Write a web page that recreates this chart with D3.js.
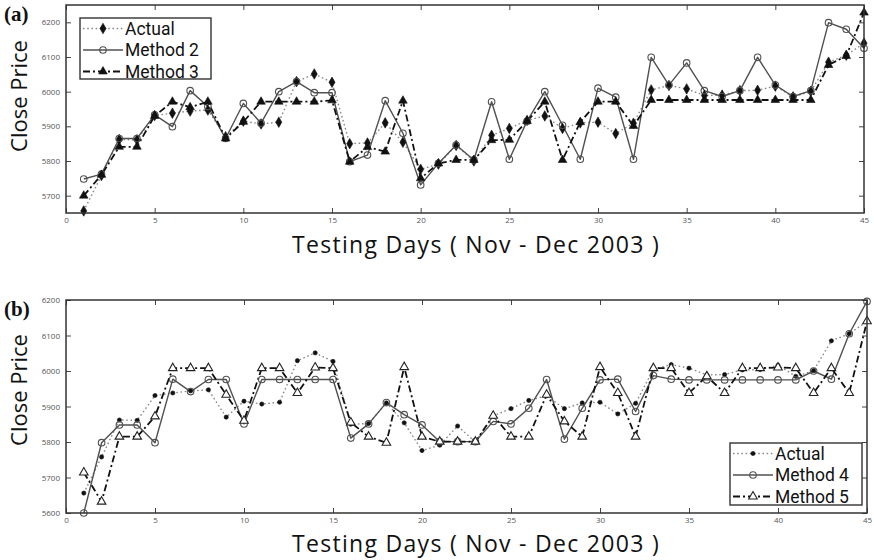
<!DOCTYPE html>
<html>
<head>
<meta charset="utf-8">
<script src="https://cdn.jsdelivr.net/npm/d3@7"></script>
<style>
  html, body { margin: 0; padding: 0; background: #fff; }
  svg { display: block; }
</style>
</head>
<body>
<svg id="chart" width="874" height="560"></svg>
<script>
// Testing days 1..45
const days = d3.range(1, 46);

// Actual close price (shared by both panels)
const actualClose = [
  5656, 5758, 5862, 5861, 5931, 5938, 5944, 5947, 5870, 5915,
  5907, 5912, 6029, 6051, 6027, 5850, 5852, 5910, 5854, 5776,
  5791, 5845, 5800, 5874, 5894, 5917, 5930, 5894, 5910, 5912,
  5879, 5909, 6005, 6018, 6008, 5989, 5990, 6003, 6004, 6016,
  5985, 6001, 6085, 6105, 6140
];

// Panel (a) forecasts
const method2 = [
  5748, 5762, 5865, 5865, 5933, 5899, 6003, 5957, 5865, 5966,
  5909, 6000, 6029, 5997, 5997, 5798, 5817, 5974, 5880, 5731,
  5793, 5846, 5803, 5971, 5805, 5915, 6000, 5903, 5805, 6010,
  5984, 5805, 6099, 6019, 6083, 6003, 5986, 6003, 6099, 6019,
  5986, 6003, 6199, 6180, 6125
];
const method3 = [
  5700, 5760, 5841, 5841, 5930, 5971, 5955, 5971, 5865, 5913,
  5971, 5971, 5971, 5971, 5975, 5798, 5840, 5827, 5974, 5750,
  5793, 5803, 5803, 5860, 5861, 5915, 5971, 5803, 5912, 5971,
  5971, 5901, 5976, 5976, 5976, 5976, 5976, 5976, 5976, 5976,
  5976, 5976, 6077, 6103, 6228
];

// Panel (b) forecasts
const method4 = [
  5600, 5798, 5848, 5848, 5798, 5977, 5942, 5976, 5976, 5851,
  5976, 5976, 5976, 5976, 5976, 5811, 5851, 5911, 5877, 5848,
  5801, 5801, 5801, 5858, 5851, 5895, 5976, 5808, 5895, 5975,
  5977, 5886, 5987, 5977, 5975, 5975, 5975, 5975, 5975, 5975,
  5975, 6000, 5977, 6105, 6196
];
const method5 = [
  5714, 5632, 5815, 5815, 5872, 6008, 6008, 6008, 5933, 5860,
  6008, 6008, 5938, 6010, 6008, 5855, 5815, 5798, 6011, 5815,
  5801, 5801, 5801, 5874, 5815, 5815, 5933, 5858, 5815, 6011,
  5938, 5815, 6008, 6008, 5938, 5985, 5938, 6008, 6008, 6010,
  6008, 5938, 6008, 5938, 6140
];

// Axis ticks
const xTicks = d3.range(0, 46, 5);
const yTicksA = [5700, 5800, 5900, 6000, 6100, 6200];
const yTicksB = [5600, 5700, 5800, 5900, 6000, 6100, 6200];

const svg = d3.select("#chart");
const SANS = "'Open Sans', 'DejaVu Sans', sans-serif";
const LEGEND_FONT = "Roboto, 'Open Sans', sans-serif";

// Line and marker styles for each kind of series
const styles = {
  actualDiamond: { stroke: "#8a8a8a", width: 1.4, dash: "1.6,2.6", marker: "diamond", mFill: "#111", mStroke: "#111" },
  actualDot:     { stroke: "#8a8a8a", width: 1.4, dash: "1.6,2.6", marker: "dot", mFill: "#111", mStroke: "#111" },
  solidCircle:   { stroke: "#505050", width: 1.4, dash: null, marker: "circle", mFill: "none", mStroke: "#505050" },
  dashTriFill:   { stroke: "#111", width: 1.8, dash: "7,3,2,3", marker: "triangle", mFill: "#111", mStroke: "#111" },
  dashTriOpen:   { stroke: "#111", width: 1.8, dash: "7,3,2,3", marker: "triangle", mFill: "#fff", mStroke: "#222" }
};

function markerPath(kind) {
  if (kind === "diamond") return d3.symbol(d3.symbolDiamond, 32)();
  if (kind === "triangle") return d3.symbol(d3.symbolTriangle, 32)();
  if (kind === "circle") return d3.symbol(d3.symbolCircle, 34)();
  return d3.symbol(d3.symbolCircle, 14)();
}

function drawMarker(g, kind, st, x, y) {
  g.append("path")
    .attr("d", markerPath(kind))
    .attr("transform", `translate(${x},${y})`)
    .attr("fill", st.mFill)
    .attr("stroke", st.mStroke)
    .attr("stroke-width", kind === "circle" || st.mFill === "#fff" ? 1.1 : 0.6);
}

function drawPanel(cfg) {
  const { left, right, top, bottom, yDomain, yTicks, series, letter, legend, titleY, ylabelY } = cfg;
  const x = d3.scaleLinear().domain([0, 45]).range([left, right]);
  const y = d3.scaleLinear().domain(yDomain).range([bottom, top]);
  const g = svg.append("g");

  // ticks on all four sides, pointing inward
  const tickLen = 5;
  const axB = d3.axisBottom(x).tickValues(xTicks).tickSize(-tickLen).tickPadding(4).tickFormat(d3.format("d"));
  const axT = d3.axisTop(x).tickValues(xTicks).tickSize(-tickLen).tickFormat("");
  const axL = d3.axisLeft(y).tickValues(yTicks).tickSize(-tickLen).tickPadding(6).tickFormat(d3.format("d"));
  const axR = d3.axisRight(y).tickValues(yTicks).tickSize(-tickLen).tickFormat("");

  const styleAxis = sel => {
    sel.select(".domain").remove();
    sel.selectAll(".tick line").attr("stroke", "#444").attr("stroke-width", 1);
    sel.selectAll(".tick text").attr("font-family", SANS).attr("font-size", 8).attr("fill", "#555");
  };
  g.append("g").attr("transform", `translate(0,${bottom})`).call(axB).call(styleAxis);
  g.append("g").attr("transform", `translate(0,${top})`).call(axT).call(styleAxis);
  g.append("g").attr("transform", `translate(${left},0)`).call(axL).call(styleAxis);
  g.append("g").attr("transform", `translate(${right},0)`).call(axR).call(styleAxis);

  // series lines and markers
  const plot = g.append("g");
  series.forEach(s => {
    const st = styles[s.style];
    const line = d3.line().x((d, i) => x(days[i])).y(d => y(d));
    plot.append("path")
      .datum(s.values)
      .attr("d", line)
      .attr("fill", "none")
      .attr("stroke", st.stroke)
      .attr("stroke-width", st.width)
      .attr("stroke-dasharray", st.dash)
      .attr("stroke-linejoin", "round");
  });
  series.forEach(s => {
    const st = styles[s.style];
    s.values.forEach((v, i) => drawMarker(plot, st.marker, st, x(days[i]), y(v)));
  });

  // frame
  g.append("rect")
    .attr("x", left).attr("y", top)
    .attr("width", right - left).attr("height", bottom - top)
    .attr("fill", "none").attr("stroke", "#333").attr("stroke-width", 1.5);

  // panel letter
  svg.append("text")
    .attr("x", 4).attr("y", top + 16)
    .attr("font-family", "'Liberation Serif', 'Times New Roman', serif")
    .attr("font-weight", "bold").attr("font-size", 21)
    .attr("fill", "#111")
    .text(letter);

  // axis titles
  svg.append("text")
    .attr("transform", `translate(${27},${ylabelY}) rotate(-90)`)
    .attr("text-anchor", "middle")
    .attr("font-family", SANS).attr("font-size", 22)
    .attr("fill", "#111")
    .text("Close Price");
  svg.append("text")
    .attr("x", 476).attr("y", titleY)
    .attr("text-anchor", "middle")
    .attr("font-family", SANS).attr("font-size", 23)
    .attr("letter-spacing", 1.3)
    .attr("fill", "#111")
    .text("Testing Days ( Nov - Dec 2003 )");

  // legend
  const lg = svg.append("g");
  lg.append("rect")
    .attr("x", legend.x).attr("y", legend.y)
    .attr("width", legend.w).attr("height", legend.h)
    .attr("fill", "#fff").attr("stroke", "#333").attr("stroke-width", 1.4);
  series.forEach((s, i) => {
    const st = styles[s.style];
    const cy = legend.y + 10.5 + i * legend.step;
    const x0 = legend.x + 3, x1 = legend.x + 43;
    lg.append("line")
      .attr("x1", x0).attr("x2", x1).attr("y1", cy).attr("y2", cy)
      .attr("stroke", st.stroke).attr("stroke-width", st.width)
      .attr("stroke-dasharray", st.dash);
    drawMarker(lg, st.marker, st, (x0 + x1) / 2, cy);
    lg.append("text")
      .attr("x", x1 + 2).attr("y", cy + 6)
      .attr("font-family", LEGEND_FONT).attr("font-size", 17.5)
      .attr("fill", "#111")
      .text(s.name);
  });
}

drawPanel({
  left: 66, right: 864, top: 5, bottom: 213,
  yDomain: [5650, 6250], yTicks: yTicksA,
  letter: "(a)", titleY: 253, ylabelY: 96,
  legend: { x: 80, y: 18, w: 131, h: 61, step: 21.5 },
  series: [
    { name: "Actual", values: actualClose, style: "actualDiamond" },
    { name: "Method 2", values: method2, style: "solidCircle" },
    { name: "Method 3", values: method3, style: "dashTriFill" }
  ]
});

drawPanel({
  left: 66, right: 867, top: 300, bottom: 513,
  yDomain: [5600, 6200], yTicks: yTicksB,
  letter: "(b)", titleY: 552, ylabelY: 390,
  legend: { x: 730, y: 443, w: 132, h: 62, step: 21.5 },
  series: [
    { name: "Actual", values: actualClose, style: "actualDot" },
    { name: "Method 4", values: method4, style: "solidCircle" },
    { name: "Method 5", values: method5, style: "dashTriOpen" }
  ]
});
</script>
</body>
</html>
